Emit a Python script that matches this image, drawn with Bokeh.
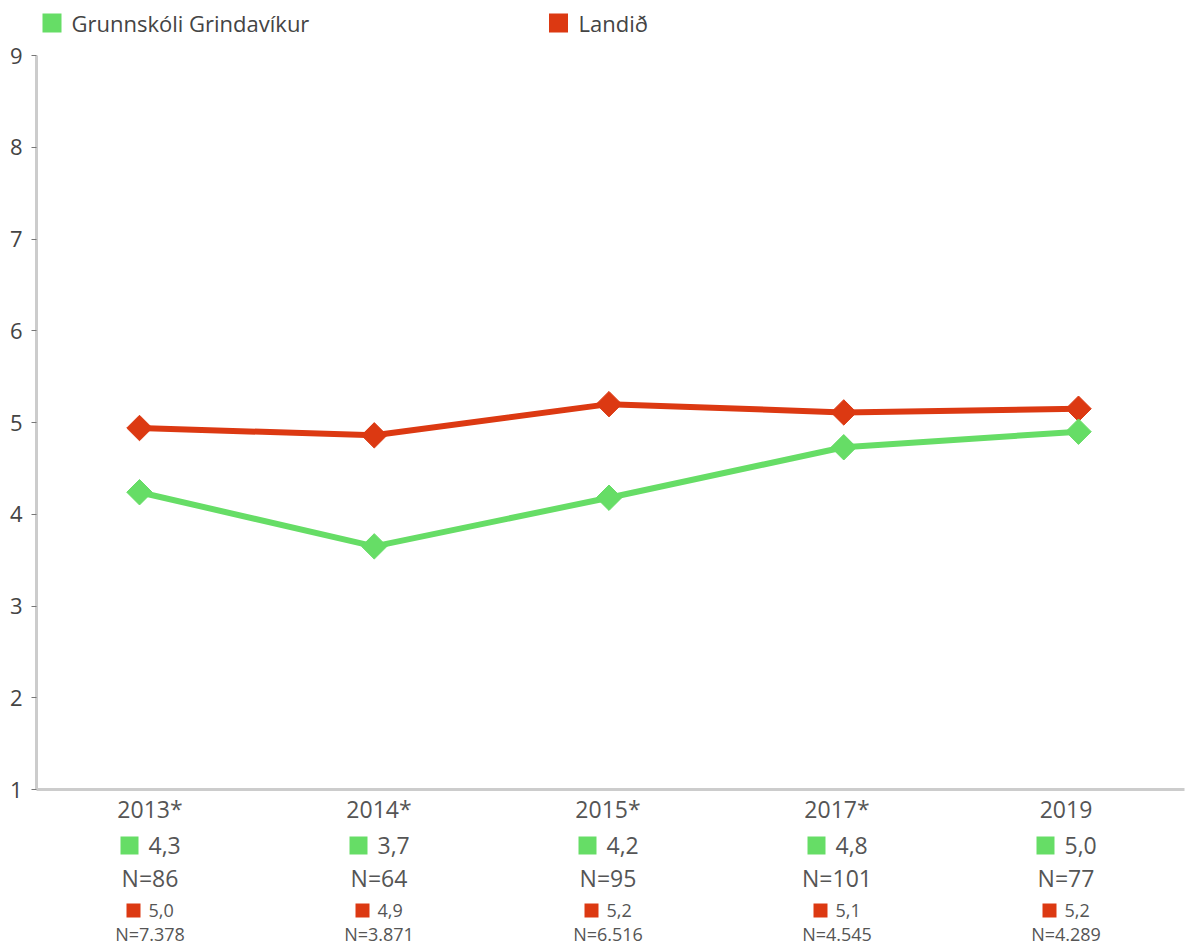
import math
from bokeh.plotting import figure
from bokeh.models import Range1d, LinearAxis, FixedTicker
from bokeh.core.properties import value
from bokeh.embed import file_html
from bokeh.resources import INLINE

# ---------------- data ----------------
years = ["2013*", "2014*", "2015*", "2017*", "2019"]
school_name = "Grunnskóli Grindavíkur"
national_name = "Landið"
school_values = [4.24, 3.65, 4.18, 4.73, 4.90]
national_values = [4.94, 4.86, 5.20, 5.11, 5.15]
school_labels = ["4,3", "3,7", "4,2", "4,8", "5,0"]
school_n = ["N=86", "N=64", "N=95", "N=101", "N=77"]
national_labels = ["5,0", "4,9", "5,2", "5,1", "5,2"]
national_n = ["N=7.378", "N=3.871", "N=6.516", "N=4.545", "N=4.289"]
y_ticks = [1, 2, 3, 4, 5, 6, 7, 8, 9]

GREEN = "#66dd66"
RED = "#dc3912"
FONT = "Open Sans"
TXT = "#555555"

idx = list(range(len(years)))

# ---------------- layout (pixel positions -> range units) ----------------
W, H = 1186, 944
X0_PX, X_STEP = 139, 234.75      # series x scale
COL0_PX, COL_STEP = 149.5, 229   # label column scale
Y1_PX, Y_STEP = 789, 91.75       # y scale


def xd(px):
    return (px - X0_PX) / X_STEP


def cd(px):
    return (px - COL0_PX) / COL_STEP


def yd(py):
    return 1 + (Y1_PX - py) / Y_STEP


p = figure(width=W, height=H, output_backend="svg", toolbar_location=None,
           x_range=Range1d(xd(0), xd(W)), y_range=Range1d(yd(H), yd(0)),
           x_axis_type=None, y_axis_type=None,
           min_border=0, min_border_left=0, min_border_right=0,
           min_border_top=0, min_border_bottom=0)
p.outline_line_color = None
p.grid.visible = False
p.background_fill_color = "white"
p.border_fill_color = "white"
p.extra_x_ranges = {"cols": Range1d(cd(0), cd(W))}

# y axis
ya = LinearAxis(fixed_location=xd(36), bounds=(1, 9), ticker=FixedTicker(ticks=y_ticks))
ya.axis_line_color = "#cccccc"
ya.axis_line_width = 3
ya.major_tick_out = 5
ya.major_tick_in = 0
ya.major_tick_line_color = "#777777"
ya.minor_tick_line_color = None
ya.major_label_text_font = FONT
ya.major_label_text_font_size = "22px"
ya.major_label_text_color = "#444444"
ya.major_label_standoff = 9
p.add_layout(ya, "left")

# x axis (category labels)
xa = LinearAxis(x_range_name="cols", fixed_location=1, bounds=(cd(36), cd(1184)),
                ticker=FixedTicker(ticks=idx),
                major_label_overrides={i: y for i, y in enumerate(years)})
xa.axis_line_color = "#cccccc"
xa.axis_line_width = 3
xa.major_tick_line_color = None
xa.minor_tick_line_color = None
xa.major_label_text_font = FONT
xa.major_label_text_font_size = "23px"
xa.major_label_text_color = TXT
xa.major_label_standoff = -3
p.add_layout(xa, "below")

# series
p.line(idx, national_values, line_width=6, color=RED)
p.scatter(idx, national_values, marker="square", angle=math.pi / 4, size=18,
          color=RED, line_color=RED)
p.line(idx, school_values, line_width=6, color=GREEN)
p.scatter(idx, school_values, marker="square", angle=math.pi / 4, size=18,
          color=GREEN, line_color=GREEN)

# table under the axis
p.rect(x=[i - 20.5 / COL_STEP for i in idx], y=[yd(845)] * len(idx), width=18, height=18,
       width_units="screen", height_units="screen", fill_color=GREEN, line_color=None,
       x_range_name="cols")
p.text(x=[i - 1.5 / COL_STEP for i in idx], y=[yd(845)] * len(idx), text=school_labels,
       text_font=value(FONT), text_font_size="23px", text_color=TXT,
       text_align="left", text_baseline="middle", x_range_name="cols")
p.text(x=idx, y=[yd(877)] * len(idx), text=school_n,
       text_font=value(FONT), text_font_size="23px", text_color=TXT,
       text_align="center", text_baseline="middle", x_range_name="cols")
p.rect(x=[i - 16.5 / COL_STEP for i in idx], y=[yd(910)] * len(idx), width=14, height=14,
       width_units="screen", height_units="screen", fill_color=RED, line_color=None,
       x_range_name="cols")
p.text(x=[i - 1.5 / COL_STEP for i in idx], y=[yd(910)] * len(idx), text=national_labels,
       text_font=value(FONT), text_font_size="18px", text_color=TXT,
       text_align="left", text_baseline="middle", x_range_name="cols")
p.text(x=idx, y=[yd(933)] * len(idx), text=national_n,
       text_font=value(FONT), text_font_size="18px", text_color=TXT,
       text_align="center", text_baseline="middle", x_range_name="cols")

# legend (top)
p.rect(x=[xd(51.5), xd(558)], y=[yd(22.5)] * 2, width=19, height=19,
       width_units="screen", height_units="screen",
       fill_color=[GREEN, RED], line_color=None)
p.text(x=[xd(71), xd(578)], y=[yd(22)] * 2, text=[school_name, national_name],
       text_font=value(FONT), text_font_size="22px", text_color="#444444",
       text_align="left", text_baseline="middle")

open("out.html", "w").write(file_html(p, INLINE))
